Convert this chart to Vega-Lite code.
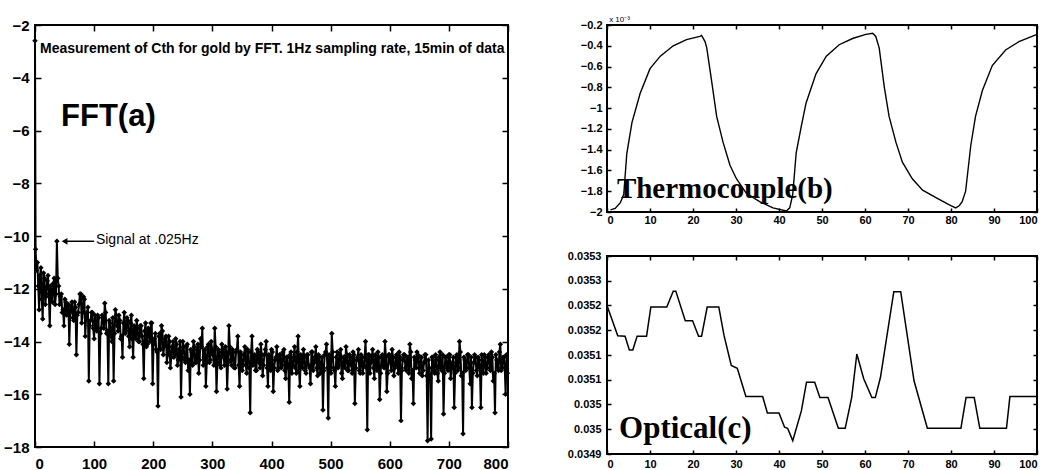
{
"$schema":"https://vega.github.io/schema/vega-lite/v6.json",
"padding":{"left":2,"top":15,"right":0,"bottom":0},
"background":"white",
"bounds":"flush",
"spacing":99,
"config":{
 "view":{"stroke":"black","strokeWidth":2},
 "axis":{"domain":false,"grid":false,"ticks":true,"tickColor":"black","tickWidth":1.5,"tickSize":6,"offset":-6,"labelPadding":6,"labelOverlap":false,"labelColor":"black","labelFont":"Liberation Sans","labelFontWeight":"bold","title":null}
},
"datasets":{
 "fft":[
{"f":0,"a":-2.6},{"f":1,"a":-10.5},{"f":4,"a":-11.0},{"f":7,"a":-12.8},{"f":10,"a":-11.2},{"f":13,"a":-13.15},{"f":16,"a":-11.6},{"f":19,"a":-12.2},{"f":22,"a":-11.5},{"f":25,"a":-13.4},{"f":28,"a":-12.1},{"f":31,"a":-11.8},{"f":34,"a":-12.6},{"f":37,"a":-10.2},{"f":40,"a":-11.9},{"f":43,"a":-12.3},{"f":46,"a":-12.9},{"f":49,"a":-13.4},{"f":52,"a":-12.5},{"f":55,"a":-12.8},{"f":58,"a":-14.1},{"f":61,"a":-12.7},{"f":64,"a":-13.1},{"f":67,"a":-12.5},{"f":70,"a":-14.5},{"f":73,"a":-12.9},{"f":76,"a":-12.2},{"f":79,"a":-13.3},{"f":82,"a":-12.3},{"f":85,"a":-13.8},{"f":88,"a":-12.9},{"f":91,"a":-15.5},{"f":94,"a":-13.2},{"f":97,"a":-12.9},{"f":100,"a":-13.9},{"f":103,"a":-13.4},{"f":106,"a":-13.0},{"f":109,"a":-15.6},{"f":112,"a":-13.5},{"f":115,"a":-13.1},{"f":118,"a":-12.55},{"f":121,"a":-13.7},{"f":124,"a":-15.6},{"f":127,"a":-13.3},{"f":130,"a":-14.0},{"f":133,"a":-15.5},{"f":136,"a":-12.8},{"f":139,"a":-13.4},{"f":142,"a":-13.0},{"f":145,"a":-13.9},{"f":148,"a":-14.6},{"f":151,"a":-12.9},{"f":154,"a":-13.6},{"f":157,"a":-13.2},{"f":160,"a":-14.2},{"f":163,"a":-13.0},{"f":166,"a":-14.6},{"f":169,"a":-13.5},{"f":172,"a":-13.2},{"f":175,"a":-14.0},{"f":178,"a":-13.4},{"f":181,"a":-13.8},{"f":184,"a":-15.4},{"f":187,"a":-13.3},{"f":190,"a":-14.1},{"f":193,"a":-13.6},{"f":196,"a":-13.3},{"f":199,"a":-15.6},{"f":202,"a":-13.9},{"f":205,"a":-14.3},{"f":208,"a":-16.45},{"f":211,"a":-13.7},{"f":214,"a":-13.4},{"f":217,"a":-14.5},{"f":220,"a":-13.9},{"f":223,"a":-14.8},{"f":226,"a":-13.8},{"f":229,"a":-15.0},{"f":232,"a":-14.2},{"f":235,"a":-14.6},{"f":238,"a":-13.9},{"f":241,"a":-14.9},{"f":244,"a":-14.3},{"f":247,"a":-16.1},{"f":250,"a":-14.0},{"f":253,"a":-14.7},{"f":256,"a":-14.2},{"f":259,"a":-15.1},{"f":262,"a":-16.0},{"f":265,"a":-14.4},{"f":268,"a":-14.0},{"f":271,"a":-14.8},{"f":274,"a":-14.3},{"f":277,"a":-15.2},{"f":280,"a":-13.9},{"f":283,"a":-13.5},{"f":286,"a":-14.6},{"f":289,"a":-15.7},{"f":292,"a":-14.2},{"f":295,"a":-14.8},{"f":298,"a":-14.0},{"f":301,"a":-14.5},{"f":304,"a":-13.5},{"f":307,"a":-15.9},{"f":310,"a":-14.3},{"f":313,"a":-14.9},{"f":316,"a":-14.1},{"f":319,"a":-14.6},{"f":322,"a":-14.2},{"f":325,"a":-15.8},{"f":328,"a":-13.4},{"f":331,"a":-14.7},{"f":334,"a":-14.3},{"f":337,"a":-15.0},{"f":340,"a":-14.4},{"f":343,"a":-13.8},{"f":346,"a":-15.7},{"f":349,"a":-14.5},{"f":352,"a":-14.9},{"f":355,"a":-14.2},{"f":358,"a":-15.2},{"f":361,"a":-14.4},{"f":364,"a":-16.7},{"f":367,"a":-13.8},{"f":370,"a":-14.6},{"f":373,"a":-15.1},{"f":376,"a":-14.3},{"f":379,"a":-14.8},{"f":382,"a":-14.1},{"f":385,"a":-15.3},{"f":388,"a":-14.5},{"f":391,"a":-14.0},{"f":394,"a":-15.7},{"f":397,"a":-14.6},{"f":400,"a":-14.3},{"f":403,"a":-15.9},{"f":406,"a":-14.7},{"f":409,"a":-14.2},{"f":412,"a":-15.0},{"f":415,"a":-14.5},{"f":418,"a":-14.9},{"f":421,"a":-14.3},{"f":424,"a":-15.4},{"f":427,"a":-14.6},{"f":430,"a":-16.3},{"f":433,"a":-14.4},{"f":436,"a":-14.9},{"f":439,"a":-14.2},{"f":442,"a":-15.2},{"f":445,"a":-13.8},{"f":448,"a":-15.7},{"f":451,"a":-14.6},{"f":454,"a":-14.3},{"f":457,"a":-15.1},{"f":460,"a":-14.5},{"f":463,"a":-14.9},{"f":466,"a":-15.6},{"f":469,"a":-14.4},{"f":472,"a":-14.8},{"f":475,"a":-14.2},{"f":478,"a":-15.3},{"f":481,"a":-14.6},{"f":484,"a":-14.9},{"f":487,"a":-16.6},{"f":490,"a":-14.5},{"f":493,"a":-14.1},{"f":496,"a":-16.9},{"f":499,"a":-14.7},{"f":502,"a":-13.7},{"f":505,"a":-15.0},{"f":508,"a":-15.7},{"f":511,"a":-14.4},{"f":514,"a":-14.9},{"f":517,"a":-14.3},{"f":520,"a":-15.4},{"f":523,"a":-14.6},{"f":526,"a":-14.2},{"f":529,"a":-15.1},{"f":532,"a":-14.5},{"f":535,"a":-14.9},{"f":538,"a":-14.4},{"f":541,"a":-16.35},{"f":544,"a":-14.7},{"f":547,"a":-14.3},{"f":550,"a":-15.2},{"f":553,"a":-14.6},{"f":556,"a":-14.9},{"f":559,"a":-14.0},{"f":562,"a":-17.35},{"f":565,"a":-14.5},{"f":568,"a":-14.8},{"f":571,"a":-14.3},{"f":574,"a":-15.4},{"f":577,"a":-14.7},{"f":580,"a":-14.4},{"f":583,"a":-16.2},{"f":586,"a":-14.6},{"f":589,"a":-14.9},{"f":592,"a":-14.0},{"f":595,"a":-15.9},{"f":598,"a":-14.5},{"f":601,"a":-14.8},{"f":604,"a":-14.3},{"f":607,"a":-15.3},{"f":610,"a":-14.6},{"f":613,"a":-14.9},{"f":616,"a":-14.4},{"f":619,"a":-17.0},{"f":622,"a":-14.7},{"f":625,"a":-14.5},{"f":628,"a":-15.1},{"f":631,"a":-14.6},{"f":634,"a":-14.1},{"f":637,"a":-15.4},{"f":640,"a":-16.35},{"f":643,"a":-14.7},{"f":646,"a":-14.4},{"f":649,"a":-15.0},{"f":652,"a":-14.6},{"f":655,"a":-15.3},{"f":658,"a":-14.8},{"f":661,"a":-14.5},{"f":664,"a":-17.76},{"f":667,"a":-15.0},{"f":670,"a":-17.7},{"f":673,"a":-14.6},{"f":676,"a":-15.2},{"f":679,"a":-14.7},{"f":682,"a":-15.5},{"f":685,"a":-14.4},{"f":688,"a":-15.1},{"f":691,"a":-16.75},{"f":694,"a":-14.6},{"f":697,"a":-15.0},{"f":700,"a":-14.5},{"f":703,"a":-15.4},{"f":706,"a":-14.8},{"f":709,"a":-16.5},{"f":712,"a":-14.6},{"f":715,"a":-15.1},{"f":718,"a":-14.0},{"f":721,"a":-15.3},{"f":724,"a":-17.5},{"f":727,"a":-14.7},{"f":730,"a":-15.0},{"f":733,"a":-14.5},{"f":736,"a":-15.6},{"f":739,"a":-16.5},{"f":742,"a":-14.8},{"f":745,"a":-14.6},{"f":748,"a":-15.3},{"f":751,"a":-14.7},{"f":754,"a":-16.5},{"f":757,"a":-14.9},{"f":760,"a":-14.5},{"f":763,"a":-15.2},{"f":766,"a":-14.6},{"f":769,"a":-15.0},{"f":772,"a":-14.4},{"f":775,"a":-15.5},{"f":778,"a":-16.7},{"f":781,"a":-14.7},{"f":784,"a":-15.1},{"f":787,"a":-14.1},{"f":790,"a":-15.0},{"f":793,"a":-14.6},{"f":796,"a":-16.0},{"f":799,"a":-15.2},
{"f":2.5,"a":-11.3},{"f":5.5,"a":-11.9},{"f":8.5,"a":-11.5},{"f":11.5,"a":-12.4},{"f":14.5,"a":-11.4},{"f":17.5,"a":-12.6},{"f":20.5,"a":-11.7},{"f":23.5,"a":-12.3},{"f":26.5,"a":-11.9},{"f":29.5,"a":-12.5},{"f":32.5,"a":-11.6},{"f":35.5,"a":-12.2},{"f":38.5,"a":-11.6},{"f":41.5,"a":-12.6},{"f":44.5,"a":-12.2},{"f":47.5,"a":-12.8},{"f":50.5,"a":-12.4},{"f":53.5,"a":-13.0},{"f":56.5,"a":-12.6},{"f":59.5,"a":-12.9},{"f":62.5,"a":-12.5},{"f":65.5,"a":-13.2},{"f":68.5,"a":-12.7},{"f":71.5,"a":-13.0},{"f":74.5,"a":-12.6},{"f":77.5,"a":-12.2},{"f":80.5,"a":-12.9},{"f":83.5,"a":-12.4},{"f":86.5,"a":-13.1},{"f":89.5,"a":-12.7},{"f":92.5,"a":-13.4},{"f":95.5,"a":-12.9},{"f":98.5,"a":-13.5},{"f":101.5,"a":-13.0},{"f":104.5,"a":-13.6},{"f":107.5,"a":-13.1},{"f":110.5,"a":-13.7},{"f":113.5,"a":-13.0},{"f":116.5,"a":-13.5},{"f":119.5,"a":-12.9},{"f":122.5,"a":-13.6},{"f":125.5,"a":-13.2},{"f":128.5,"a":-13.8},{"f":131.5,"a":-13.1},{"f":134.5,"a":-13.7},{"f":137.5,"a":-13.0},{"f":140.5,"a":-13.6},{"f":143.5,"a":-13.2},{"f":146.5,"a":-13.8},{"f":149.5,"a":-13.3},{"f":152.5,"a":-13.7},{"f":155.5,"a":-13.1},{"f":158.5,"a":-13.8},{"f":161.5,"a":-13.3},{"f":164.5,"a":-13.9},{"f":167.5,"a":-13.4},{"f":170.5,"a":-13.9},{"f":173.5,"a":-13.5},{"f":176.5,"a":-14.0},{"f":179.5,"a":-13.4},{"f":182.5,"a":-14.1},{"f":185.5,"a":-13.6},{"f":188.5,"a":-14.2},{"f":191.5,"a":-13.5},{"f":194.5,"a":-14.0},{"f":197.5,"a":-13.3},{"f":200.5,"a":-14.1},{"f":203.5,"a":-13.7},{"f":206.5,"a":-14.4},{"f":209.5,"a":-13.8},{"f":212.5,"a":-14.3},{"f":215.5,"a":-13.6},{"f":218.5,"a":-14.2},{"f":221.5,"a":-13.8},{"f":224.5,"a":-14.5},{"f":227.5,"a":-14.0},{"f":230.5,"a":-14.6},{"f":233.5,"a":-14.0},{"f":236.5,"a":-14.5},{"f":239.5,"a":-14.1},{"f":242.5,"a":-14.7},{"f":245.5,"a":-14.0},{"f":248.5,"a":-14.6},{"f":251.5,"a":-14.2},{"f":254.5,"a":-14.8},{"f":257.5,"a":-14.1},{"f":260.5,"a":-14.7},{"f":263.5,"a":-14.3},{"f":266.5,"a":-14.9},{"f":269.5,"a":-14.2},{"f":272.5,"a":-14.8},{"f":275.5,"a":-14.1},{"f":278.5,"a":-14.7},{"f":281.5,"a":-14.2},{"f":284.5,"a":-14.9},{"f":287.5,"a":-14.3},{"f":290.5,"a":-14.8},{"f":293.5,"a":-14.1},{"f":296.5,"a":-14.7},{"f":299.5,"a":-14.3},{"f":302.5,"a":-14.9},{"f":305.5,"a":-14.2},{"f":308.5,"a":-14.8},{"f":311.5,"a":-14.4},{"f":314.5,"a":-15.0},{"f":317.5,"a":-14.3},{"f":320.5,"a":-14.9},{"f":323.5,"a":-14.4},{"f":326.5,"a":-14.8},{"f":329.5,"a":-14.2},{"f":332.5,"a":-14.9},{"f":335.5,"a":-14.4},{"f":338.5,"a":-15.0},{"f":341.5,"a":-14.3},{"f":344.5,"a":-14.9},{"f":347.5,"a":-14.4},{"f":350.5,"a":-15.1},{"f":353.5,"a":-14.5},{"f":356.5,"a":-14.9},{"f":359.5,"a":-14.3},{"f":362.5,"a":-15.0},{"f":365.5,"a":-14.4},{"f":368.5,"a":-14.9},{"f":371.5,"a":-14.5},{"f":374.5,"a":-15.1},{"f":377.5,"a":-14.4},{"f":380.5,"a":-15.0},{"f":383.5,"a":-14.5},{"f":386.5,"a":-14.9},{"f":389.5,"a":-14.3},{"f":392.5,"a":-15.0},{"f":395.5,"a":-14.5},{"f":398.5,"a":-15.1},{"f":401.5,"a":-14.4},{"f":404.5,"a":-15.0},{"f":407.5,"a":-14.6},{"f":410.5,"a":-15.1},{"f":413.5,"a":-14.5},{"f":416.5,"a":-15.0},{"f":419.5,"a":-14.4},{"f":422.5,"a":-15.1},{"f":425.5,"a":-14.6},{"f":428.5,"a":-15.0},{"f":431.5,"a":-14.5},{"f":434.5,"a":-15.2},{"f":437.5,"a":-14.6},{"f":440.5,"a":-15.0},{"f":443.5,"a":-14.4},{"f":446.5,"a":-15.1},{"f":449.5,"a":-14.5},{"f":452.5,"a":-15.0},{"f":455.5,"a":-14.6},{"f":458.5,"a":-15.2},{"f":461.5,"a":-14.5},{"f":464.5,"a":-15.0},{"f":467.5,"a":-14.4},{"f":470.5,"a":-15.1},{"f":473.5,"a":-14.6},{"f":476.5,"a":-15.0},{"f":479.5,"a":-14.5},{"f":482.5,"a":-15.2},{"f":485.5,"a":-14.6},{"f":488.5,"a":-15.1},{"f":491.5,"a":-14.4},{"f":494.5,"a":-15.0},{"f":497.5,"a":-14.5},{"f":500.5,"a":-15.2},{"f":503.5,"a":-14.4},{"f":506.5,"a":-15.1},{"f":509.5,"a":-14.6},{"f":512.5,"a":-15.0},{"f":515.5,"a":-14.5},{"f":518.5,"a":-15.2},{"f":521.5,"a":-14.6},{"f":524.5,"a":-15.0},{"f":527.5,"a":-14.5},{"f":530.5,"a":-15.1},{"f":533.5,"a":-14.6},{"f":536.5,"a":-15.2},{"f":539.5,"a":-14.5},{"f":542.5,"a":-15.0},{"f":545.5,"a":-14.6},{"f":548.5,"a":-15.1},{"f":551.5,"a":-14.5},{"f":554.5,"a":-15.2},{"f":557.5,"a":-14.6},{"f":560.5,"a":-15.0},{"f":563.5,"a":-14.5},{"f":566.5,"a":-15.2},{"f":569.5,"a":-14.6},{"f":572.5,"a":-15.0},{"f":575.5,"a":-14.5},{"f":578.5,"a":-15.1},{"f":581.5,"a":-14.6},{"f":584.5,"a":-15.2},{"f":587.5,"a":-14.5},{"f":590.5,"a":-15.0},{"f":593.5,"a":-14.6},{"f":596.5,"a":-15.2},{"f":599.5,"a":-14.5},{"f":602.5,"a":-15.1},{"f":605.5,"a":-14.6},{"f":608.5,"a":-15.0},{"f":611.5,"a":-14.5},{"f":614.5,"a":-15.2},{"f":617.5,"a":-14.6},{"f":620.5,"a":-15.1},{"f":623.5,"a":-14.5},{"f":626.5,"a":-15.0},{"f":629.5,"a":-14.6},{"f":632.5,"a":-15.2},{"f":635.5,"a":-14.4},{"f":638.5,"a":-15.1},{"f":641.5,"a":-14.6},{"f":644.5,"a":-15.0},{"f":647.5,"a":-14.5},{"f":650.5,"a":-15.2},{"f":653.5,"a":-14.6},{"f":656.5,"a":-15.1},{"f":659.5,"a":-14.5},{"f":662.5,"a":-15.3},{"f":665.5,"a":-14.7},{"f":668.5,"a":-15.4},{"f":671.5,"a":-14.6},{"f":674.5,"a":-15.1},{"f":677.5,"a":-14.5},{"f":680.5,"a":-15.2},{"f":683.5,"a":-14.6},{"f":686.5,"a":-15.0},{"f":689.5,"a":-14.5},{"f":692.5,"a":-15.2},{"f":695.5,"a":-14.6},{"f":698.5,"a":-15.1},{"f":701.5,"a":-14.5},{"f":704.5,"a":-15.0},{"f":707.5,"a":-14.6},{"f":710.5,"a":-15.2},{"f":713.5,"a":-14.5},{"f":716.5,"a":-15.0},{"f":719.5,"a":-14.4},{"f":722.5,"a":-15.2},{"f":725.5,"a":-14.6},{"f":728.5,"a":-15.1},{"f":731.5,"a":-14.5},{"f":734.5,"a":-15.0},{"f":737.5,"a":-14.6},{"f":740.5,"a":-15.2},{"f":743.5,"a":-14.5},{"f":746.5,"a":-15.1},{"f":749.5,"a":-14.6},{"f":752.5,"a":-15.0},{"f":755.5,"a":-14.5},{"f":758.5,"a":-15.2},{"f":761.5,"a":-14.6},{"f":764.5,"a":-15.0},{"f":767.5,"a":-14.5},{"f":770.5,"a":-15.1},{"f":773.5,"a":-14.6},{"f":776.5,"a":-15.2},{"f":779.5,"a":-14.5},{"f":782.5,"a":-15.0},{"f":785.5,"a":-14.4},{"f":788.5,"a":-15.1},{"f":791.5,"a":-14.6},{"f":794.5,"a":-15.0},{"f":797.5,"a":-14.5}
 ],
 "thermo":[
{"t":0.8,"v":-1.98},{"t":1.9,"v":-1.965},{"t":3.1,"v":-1.91},{"t":3.9,"v":-1.83},{"t":4.6,"v":-1.44},{"t":5.8,"v":-1.14},{"t":7.7,"v":-0.86},{"t":10,"v":-0.62},{"t":12.4,"v":-0.5},{"t":15.4,"v":-0.4},{"t":18.5,"v":-0.34},{"t":21.6,"v":-0.31},{"t":22,"v":-0.3},{"t":22.8,"v":-0.36},{"t":23.2,"v":-0.42},{"t":24.3,"v":-0.73},{"t":25.5,"v":-1.08},{"t":27,"v":-1.33},{"t":28.6,"v":-1.55},{"t":30.1,"v":-1.68},{"t":32.4,"v":-1.82},{"t":35.5,"v":-1.9},{"t":38.6,"v":-1.96},{"t":41.7,"v":-1.99},{"t":42.5,"v":-1.96},{"t":43.2,"v":-1.83},{"t":44,"v":-1.43},{"t":45.2,"v":-1.17},{"t":46.3,"v":-0.95},{"t":48.6,"v":-0.67},{"t":51,"v":-0.5},{"t":54,"v":-0.39},{"t":57.1,"v":-0.33},{"t":60.2,"v":-0.29},{"t":61.8,"v":-0.28},{"t":62.5,"v":-0.31},{"t":63.3,"v":-0.42},{"t":64.5,"v":-0.8},{"t":65.6,"v":-1.08},{"t":67.2,"v":-1.33},{"t":68.7,"v":-1.52},{"t":71,"v":-1.68},{"t":73.4,"v":-1.79},{"t":76.4,"v":-1.86},{"t":79.5,"v":-1.93},{"t":81.1,"v":-1.96},{"t":81.9,"v":-1.94},{"t":82.6,"v":-1.9},{"t":83.4,"v":-1.8},{"t":84.6,"v":-1.36},{"t":85.7,"v":-1.08},{"t":87.3,"v":-0.83},{"t":89.6,"v":-0.59},{"t":92.7,"v":-0.44},{"t":95.8,"v":-0.36},{"t":100,"v":-0.29}
 ],
 "optical":[
{"t":0,"v":0.0352},{"t":2.5,"v":0.035139},{"t":4.2,"v":0.035138},{"t":5.2,"v":0.03511},{"t":6,"v":0.03511},{"t":7,"v":0.035138},{"t":9.2,"v":0.035138},{"t":10.2,"v":0.035197},{"t":13.9,"v":0.035197},{"t":15.4,"v":0.035229},{"t":16,"v":0.035229},{"t":18.2,"v":0.035169},{"t":19.9,"v":0.035169},{"t":21.3,"v":0.035138},{"t":22,"v":0.035138},{"t":23.3,"v":0.035197},{"t":26,"v":0.035197},{"t":27.2,"v":0.03514},{"t":28.9,"v":0.035079},{"t":30.3,"v":0.035073},{"t":32.3,"v":0.035016},{"t":36.2,"v":0.035016},{"t":37.3,"v":0.034983},{"t":40,"v":0.034983},{"t":41.3,"v":0.034954},{"t":42,"v":0.034952},{"t":43.2,"v":0.034927},{"t":45.2,"v":0.034987},{"t":46.4,"v":0.035045},{"t":48.3,"v":0.035045},{"t":49.5,"v":0.035014},{"t":51.4,"v":0.035014},{"t":53.8,"v":0.034952},{"t":55.4,"v":0.034952},{"t":56.9,"v":0.035014},{"t":58.1,"v":0.035102},{"t":59.7,"v":0.035052},{"t":61.6,"v":0.035014},{"t":62.4,"v":0.035014},{"t":63.6,"v":0.035055},{"t":66.7,"v":0.035228},{"t":68.3,"v":0.035228},{"t":71.4,"v":0.035048},{"t":74.5,"v":0.034952},{"t":82.3,"v":0.034952},{"t":83.5,"v":0.035014},{"t":85.4,"v":0.035014},{"t":86.7,"v":0.034952},{"t":92.9,"v":0.034952},{"t":93.7,"v":0.035016},{"t":100,"v":0.035016}
 ]
},
"hconcat":[
 {
  "width":473,"height":422,
  "resolve":{"axis":{"x":"independent","y":"independent"}},
  "layer":[
   {"layer":[
    {"data":{"name":"fft"},
     "mark":{"type":"line","color":"black","strokeWidth":2,"point":{"filled":true,"shape":"diamond","size":30,"color":"black"}},
     "encoding":{
      "x":{"field":"f","type":"quantitative","scale":{"domain":[0,800],"nice":false},"axis":{"values":[0,100,200,300,400,500,600,700,800],"tickCount":30,"format":"d","labelFontSize":15,"labelPadding":9,"labelOverlap":false}},
      "y":{"field":"a","type":"quantitative","scale":{"domain":[-18,-2],"nice":false,"zero":false},"axis":{"values":[-18,-16,-14,-12,-10,-8,-6,-4,-2],"tickCount":30,"format":"d","labelFontSize":15,"labelPadding":6,"labelOverlap":false}}
     }},
    {"data":{"values":[{}]},
     "mark":{"type":"text","text":"Measurement of Cth for gold by FFT.  1Hz sampling rate, 15min of data","align":"left","baseline":"middle","font":"Liberation Sans","fontWeight":"bold","fontSize":14,"color":"black"},
     "encoding":{"x":{"datum":8.5},"y":{"datum":-2.91}}},
    {"data":{"values":[{}]},
     "mark":{"type":"text","text":"FFT(a)","align":"left","baseline":"alphabetic","font":"Liberation Sans","fontWeight":"bold","fontSize":31,"color":"black"},
     "encoding":{"x":{"datum":44},"y":{"datum":-5.83}}},
    {"data":{"values":[{}]},
     "mark":{"type":"text","text":"Signal at .025Hz","align":"left","baseline":"middle","font":"Liberation Sans","fontSize":14,"color":"black"},
     "encoding":{"x":{"datum":103},"y":{"datum":-10.15}}},
    {"data":{"values":[{}]},
     "mark":{"type":"rule","color":"black","strokeWidth":1.5},
     "encoding":{"x":{"datum":50},"x2":{"datum":100},"y":{"datum":-10.2}}},
    {"data":{"values":[{}]},
     "mark":{"type":"point","shape":"triangle-left","filled":true,"size":45,"color":"black","opacity":1},
     "encoding":{"x":{"datum":50},"y":{"datum":-10.2}}}
   ]},
   {"data":{"name":"fft"},
    "mark":{"type":"point","opacity":0},
    "encoding":{
     "x":{"field":"f","type":"quantitative","axis":{"orient":"top","labels":false,"tickCount":30,"values":[0,100,200,300,400,500,600,700,800]}},
     "y":{"field":"a","type":"quantitative","axis":{"orient":"right","labels":false,"tickCount":30,"values":[-18,-16,-14,-12,-10,-8,-6,-4,-2]}}
    }}
  ]
 },
 {
  "bounds":"flush",
  "spacing":44,
  "vconcat":[
   {
    "width":430,"height":187,
    "resolve":{"axis":{"x":"independent","y":"independent"}},
    "layer":[
     {"layer":[
      {"data":{"name":"thermo"},
       "mark":{"type":"line","color":"black","strokeWidth":1.4},
       "encoding":{
        "x":{"field":"t","type":"quantitative","scale":{"domain":[0,100],"nice":false},"axis":{"values":[0,10,20,30,40,50,60,70,80,90,100],"tickCount":30,"format":"d","labelFontSize":11,"tickSize":4,"offset":-4,"labelPadding":2,"labelOverlap":false}},
        "y":{"field":"v","type":"quantitative","scale":{"domain":[-2,-0.2],"nice":false,"zero":false},"axis":{"values":[-2,-1.8,-1.6,-1.4,-1.2,-1,-0.8,-0.6,-0.4,-0.2],"tickCount":30,"format":".1~f","labelFontSize":11,"tickSize":4,"offset":-4,"labelPadding":5,"labelOverlap":false}}
       }},
      {"data":{"values":[{}]},
       "mark":{"type":"text","text":"Thermocouple(b)","align":"left","baseline":"alphabetic","font":"Liberation Serif","fontWeight":"bold","fontSize":29,"color":"black"},
       "encoding":{"x":{"datum":2.3},"y":{"datum":-1.865}}},
      {"data":{"values":[{}]},
       "mark":{"type":"text","text":"x 10⁻³","align":"left","baseline":"bottom","font":"Liberation Sans","fontSize":8,"dy":-1,"color":"black"},
       "encoding":{"x":{"datum":0.5},"y":{"datum":-0.2}}}
     ]},
     {"data":{"name":"thermo"},
      "mark":{"type":"point","opacity":0},
      "encoding":{
       "x":{"field":"t","type":"quantitative","axis":{"orient":"top","labels":false,"tickCount":30,"tickSize":4,"offset":-4,"values":[0,10,20,30,40,50,60,70,80,90,100]}},
       "y":{"field":"v","type":"quantitative","axis":{"orient":"right","labels":false,"tickCount":30,"tickSize":4,"offset":-4,"values":[-2,-1.8,-1.6,-1.4,-1.2,-1,-0.8,-0.6,-0.4,-0.2]}}
      }}
    ]
   },
   {
    "width":430,"height":198,
    "resolve":{"axis":{"x":"independent","y":"independent"}},
    "layer":[
     {"layer":[
      {"data":{"name":"optical"},
       "mark":{"type":"line","color":"black","strokeWidth":1.5},
       "encoding":{
        "x":{"field":"t","type":"quantitative","scale":{"domain":[0,100],"nice":false},"axis":{"values":[0,10,20,30,40,50,60,70,80,90,100],"tickCount":30,"format":"d","labelFontSize":11,"tickSize":4,"offset":-4,"labelPadding":4,"labelOverlap":false}},
        "y":{"field":"v","type":"quantitative","scale":{"domain":[0.0349,0.0353],"nice":false,"zero":false},"axis":{"values":[0.0349,0.03495,0.035,0.03505,0.0351,0.03515,0.0352,0.03525,0.0353],"tickCount":30,"labelExpr":"format(datum.value + 1e-10, '.3~r')","labelFontSize":11,"tickSize":4,"offset":-4,"labelPadding":6,"labelOverlap":false}}
       }},
      {"data":{"values":[{}]},
       "mark":{"type":"text","text":"Optical(c)","align":"left","baseline":"alphabetic","font":"Liberation Serif","fontWeight":"bold","fontSize":31,"color":"black"},
       "encoding":{"x":{"datum":2.8},"y":{"datum":0.034932}}}
     ]},
     {"data":{"name":"optical"},
      "mark":{"type":"point","opacity":0},
      "encoding":{
       "x":{"field":"t","type":"quantitative","axis":{"orient":"top","labels":false,"tickCount":30,"tickSize":4,"offset":-4,"values":[0,10,20,30,40,50,60,70,80,90,100]}},
       "y":{"field":"v","type":"quantitative","axis":{"orient":"right","labels":false,"tickCount":30,"tickSize":4,"offset":-4,"values":[0.0349,0.03495,0.035,0.03505,0.0351,0.03515,0.0352,0.03525,0.0353]}}
      }}
    ]
   }
  ]
 }
]
}
